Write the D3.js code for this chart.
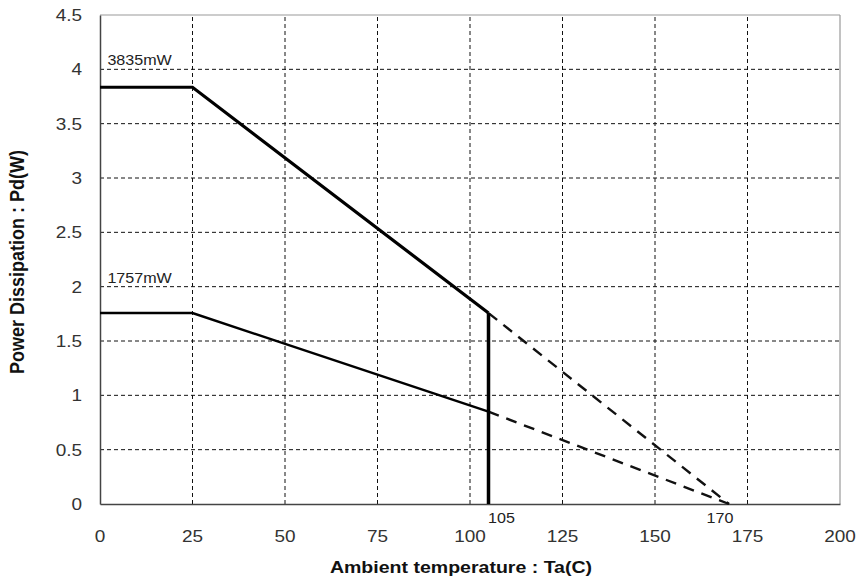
<!DOCTYPE html>
<html>
<head>
<meta charset="utf-8">
<script src="https://cdn.jsdelivr.net/npm/d3@7"></script>
<style>
  html, body { margin: 0; padding: 0; background: #fff; }
  svg { display: block; }
  text { font-family: "Liberation Sans", Arial, sans-serif; }
</style>
</head>
<body>
<svg id="chart" width="859" height="583"></svg>
<script>
// ---- data ----
const xTickValues = [0, 25, 50, 75, 100, 125, 150, 175, 200];
const xTickLabels = ["0", "25", "50", "75", "100", "125", "150", "175", "200"];
const yTickValues = [0, 0.5, 1, 1.5, 2, 2.5, 3, 3.5, 4, 4.5];
const yTickLabels = ["0", "0.5", "1", "1.5", "2", "2.5", "3", "3.5", "4", "4.5"];

const temps1 = [0, 25, 105];
const power1 = [3.835, 3.835, 1.757];
const dashTemps1 = [105, 170];
const dashPower1 = [1.757, 0];

const temps2 = [0, 25, 105];
const power2 = [1.757, 1.757, 0.85];
const dashTemps2 = [105, 170];
const dashPower2 = [0.85, 0];

const limitTemps = [105, 105];
const limitPower = [0, 1.757];

const seriesLabels = ["3835mW", "1757mW"];
const seriesLabelPos = [[2, 4.0], [2, 2.0]];
const markTemps = [105, 170];
const markLabels = ["105", "170"];

const xTitle = "Ambient temperature : Ta(C)";
const yTitle = "Power Dissipation : Pd(W)";

// ---- layout ----
const svg = d3.select("#chart");
const m = { left: 100, right: 19, top: 15, bottom: 79 };
const W = 859, H = 583;
const x = d3.scaleLinear().domain([0, 200]).range([m.left, W - m.right]);
const y = d3.scaleLinear().domain([0, 4.5]).range([H - m.bottom, m.top]);
const SX = 1.15; // horizontal glyph stretch of the reference

function label(px, py, str, opts) {
  const t = svg.append("text")
    .attr("transform", `translate(${px},${py}) scale(${opts.sx || SX},1)`)
    .attr("text-anchor", opts.anchor || "start")
    .attr("font-size", opts.size)
    .attr("font-weight", opts.weight || "normal")
    .attr("fill", opts.fill || "#222")
    .text(str);
  return t;
}

svg.append("rect").attr("width", W).attr("height", H).attr("fill", "#fff");

// grid
svg.append("g").selectAll("line").data(xTickValues.filter(v => v > 0 && v < 200)).join("line")
  .attr("x1", d => x(d)).attr("x2", d => x(d))
  .attr("y1", y(0)).attr("y2", y(4.5))
  .attr("stroke", "#111").attr("stroke-width", 1).attr("stroke-dasharray", "4,3");
svg.append("g").selectAll("line").data(yTickValues.filter(v => v > 0 && v < 4.5)).join("line")
  .attr("x1", x(0)).attr("x2", x(200))
  .attr("y1", d => y(d)).attr("y2", d => y(d))
  .attr("stroke", "#111").attr("stroke-width", 1).attr("stroke-dasharray", "4,3");

// frame
svg.append("line").attr("x1", x(0)).attr("x2", x(200)).attr("y1", y(4.5)).attr("y2", y(4.5))
  .attr("stroke", "#999").attr("stroke-width", 1.2);
svg.append("line").attr("x1", x(200)).attr("x2", x(200)).attr("y1", y(0)).attr("y2", y(4.5))
  .attr("stroke", "#999").attr("stroke-width", 1.2);

// axes
const xAxis = d3.axisBottom(x).tickValues(xTickValues).tickSize(0).tickFormat((d, i) => xTickLabels[i]);
const yAxis = d3.axisLeft(y).tickValues(yTickValues).tickSize(0).tickFormat((d, i) => yTickLabels[i]);
const gx = svg.append("g").attr("transform", `translate(0,${y(0)})`).call(xAxis);
const gy = svg.append("g").attr("transform", `translate(${x(0)},0)`).call(yAxis);
[gx, gy].forEach(g => {
  g.select(".domain").attr("stroke", "#444").attr("stroke-width", 1.5);
  g.selectAll("text").remove();
});
xTickValues.forEach((v, i) => label(x(v), 542, xTickLabels[i], { size: 16.5, anchor: "middle", fill: "#333" }));
yTickValues.forEach((v, i) => label(82, y(v) + 6, yTickLabels[i], { size: 16.5, anchor: "end", fill: "#333" }));

// lines
const line = d3.line().x(d => x(d[0])).y(d => y(d[1]));
const pts = (t, p) => t.map((v, i) => [v, p[i]]);

svg.append("path").attr("d", line(pts(dashTemps1, dashPower1)))
  .attr("fill", "none").attr("stroke", "#111").attr("stroke-width", 2.4).attr("stroke-dasharray", "11,8");
svg.append("path").attr("d", line(pts(dashTemps2, dashPower2)))
  .attr("fill", "none").attr("stroke", "#111").attr("stroke-width", 2.4).attr("stroke-dasharray", "11,8");
svg.append("path").attr("d", line(pts(temps2, power2)))
  .attr("fill", "none").attr("stroke", "#000").attr("stroke-width", 2.4);
svg.append("path").attr("d", line(pts(temps1, power1)))
  .attr("fill", "none").attr("stroke", "#000").attr("stroke-width", 3.2);
svg.append("path").attr("d", line(pts(limitTemps, limitPower)))
  .attr("fill", "none").attr("stroke", "#000").attr("stroke-width", 3.5);

// annotations
label(x(seriesLabelPos[0][0]), 65, seriesLabels[0], { size: 14 });
label(x(seriesLabelPos[1][0]), 283, seriesLabels[1], { size: 14 });
label(x(markTemps[0]) + 13, 523, markLabels[0], { size: 14, anchor: "middle" });
label(x(markTemps[1]) - 9, 523, markLabels[1], { size: 14, anchor: "middle" });

// titles
label(461, 573, xTitle, { size: 17, weight: "bold", anchor: "middle", fill: "#111" });
svg.append("text")
  .attr("transform", `translate(24,262) rotate(-90) scale(1,${SX})`)
  .attr("text-anchor", "middle").attr("font-size", 18).attr("font-weight", "bold").attr("fill", "#111")
  .text(yTitle);
</script>
</body>
</html>
